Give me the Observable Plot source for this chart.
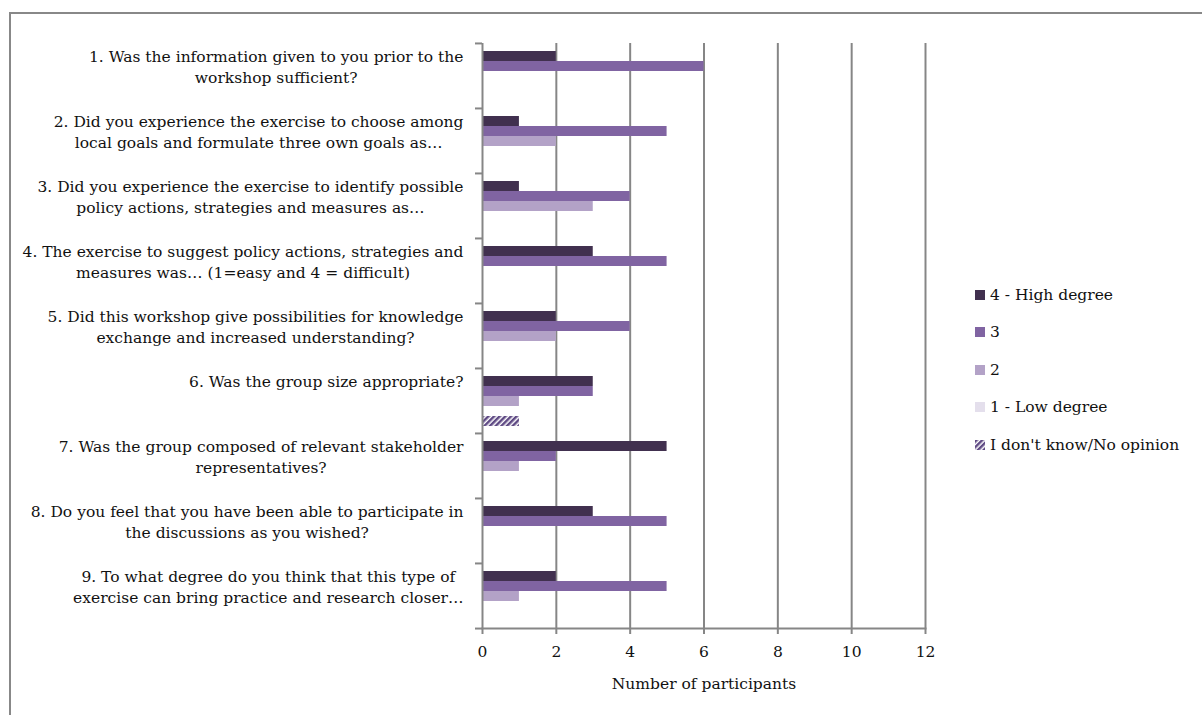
<!DOCTYPE html>
<html><head><meta charset="utf-8">
<script src="https://cdn.jsdelivr.net/npm/d3@7"></script>
<script src="https://cdn.jsdelivr.net/npm/@observablehq/plot@0.6"></script>
<style>
body{margin:0;width:1202px;height:715px;overflow:hidden;background:#fff;font-family:"DejaVu Serif",serif;}
#border{position:absolute;left:9px;top:12px;width:1300px;height:800px;border-left:2px solid #888;border-top:2px solid #888;}
#chart{position:absolute;left:0;top:0;}
#legend{position:absolute;left:975px;top:276px;font-size:15.5px;color:#111;}
.row{height:37.5px;display:flex;align-items:center;white-space:nowrap;}
.row svg{margin-right:5px;}
</style></head><body>
<svg width="0" height="0" style="position:absolute">
  <defs>
    <pattern id="hatch" patternUnits="userSpaceOnUse" width="4" height="4" patternTransform="rotate(45)">
      <rect width="4" height="4" fill="#fff"></rect>
      <rect width="2.5" height="4" fill="#5f4a84"></rect>
    </pattern>
  </defs>
</svg>
<div id="border"></div><div id="chart"></div><div id="legend"></div>
<script>
const categories = [
  "1. Was the information given to you prior to the\nworkshop sufficient?",
  "2. Did you experience the exercise to choose among\nlocal goals and formulate three own goals as…",
  "3. Did you experience the exercise to identify possible\npolicy actions, strategies and measures as…",
  "4. The exercise to suggest policy actions, strategies and\nmeasures was… (1=easy and 4 = difficult)",
  "5. Did this workshop give possibilities for knowledge\nexchange and increased understanding?",
  "6. Was the group size appropriate?",
  "7. Was the group composed of relevant stakeholder\nrepresentatives?",
  "8. Do you feel that you have been able to participate in\nthe discussions as you wished?",
  "9. To what degree do you think that this type of\nexercise can bring practice and research closer…"
];
const series = ["4 - High degree", "3", "2", "1 - Low degree", "I don't know/No opinion"];
const highDegree = [2, 1, 1, 3, 2, 3, 5, 3, 2];
const degree3    = [6, 5, 4, 5, 4, 3, 2, 5, 5];
const degree2    = [0, 2, 3, 0, 2, 1, 1, 0, 1];
const lowDegree  = [0, 0, 0, 0, 0, 0, 0, 0, 0];
const dontKnow   = [0, 0, 0, 0, 0, 1, 0, 0, 0];
const xTicks = [0, 2, 4, 6, 8, 10, 12];
const seriesColors = ["#41304f", "#8064a2", "#b3a2c7", "#e4dfec", "url(#hatch)"];

const valuesBySeries = [highDegree, degree3, degree2, lowDegree, dontKnow];
const rows = [];
categories.forEach((c, i) => series.forEach((s, k) => {
  rows.push({cat: c, series: s, value: valuesBySeries[k][i]});
}));

const W = 1202, H = 715, mL = 482, mR = 277, mT = 42, mB = 87;
const step = (H - mT - mB) / categories.length;
const fontSize = 15.5;
const fontFamily = "DejaVu Serif";
const ctx = document.createElement("canvas").getContext("2d");
ctx.font = `${fontSize}px "${fontFamily}"`;
const maxLineWidth = s => Math.max(...s.split("\n").map(l => ctx.measureText(l).width));
const grey = "#868686";

const labelMarks = categories.map(c => Plot.text([c], {
  fy: d => d, text: d => d, frameAnchor: "left",
  textAnchor: "middle", lineAnchor: "top", lineHeight: 1.33,
  dx: -(19 + maxLineWidth(c) / 2), dy: -step / 2 + 4, fill: "#111"
}));

const chart = Plot.plot({
  width: W, height: H,
  marginLeft: mL, marginRight: mR, marginTop: mT, marginBottom: mB,
  style: {fontFamily, fontSize: fontSize + "px", background: "transparent", color: "#111"},
  x: {domain: [0, 12]},
  y: {domain: series, paddingInner: 0, paddingOuter: 0.75, axis: null},
  fy: {domain: categories, padding: 0, axis: null},
  color: {domain: series, range: seriesColors},
  marks: [
    Plot.gridX({ticks: xTicks.filter(t => t > 0), stroke: grey, strokeOpacity: 1, strokeWidth: 2}),
    Plot.barX(rows.filter(d => d.value > 0), {x: "value", y: "series", fy: "cat", fill: "series"}),
    Plot.ruleX([0], {stroke: grey, strokeWidth: 2}),
    Plot.frame({anchor: "bottom", facet: "super", stroke: grey, strokeWidth: 2}),
    Plot.axisFy({anchor: "left", label: null, tickSize: 7, tickFormat: () => "", dy: -step / 2, stroke: grey, strokeWidth: 2}),
    Plot.axisFy({anchor: "left", label: null, ticks: [categories[categories.length - 1]], tickSize: 7, tickFormat: () => "", dy: step / 2, stroke: grey, strokeWidth: 2}),
    Plot.axisX({ticks: xTicks, tickSize: 6, tickPadding: 11, stroke: grey, strokeWidth: 2, fill: "#111",
      label: "Number of participants", labelAnchor: "center", labelArrow: "none", labelOffset: 60}),
    ...labelMarks
  ]
});
document.getElementById("chart").append(chart);

const legend = document.getElementById("legend");
series.forEach((s, k) => {
  const row = document.createElement("div");
  row.className = "row";
  row.innerHTML = `<svg width="10" height="10"><rect width="10" height="10" fill="${seriesColors[k]}"></rect></svg><span></span>`;
  row.querySelector("span").textContent = s;
  legend.append(row);
});
</script></body></html>
